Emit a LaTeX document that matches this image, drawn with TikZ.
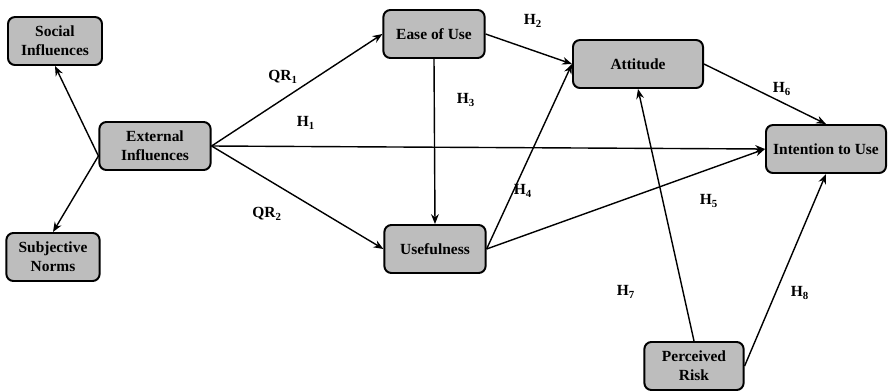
\documentclass[tikz,border=0pt]{standalone}
\usepackage{fontspec}
\setmainfont{Liberation Serif}
\usetikzlibrary{arrows.meta}

\newcommand{\hyp}[2]{\textbf{#1}\textsubscript{\textbf{#2}}}

\begin{document}
\begin{tikzpicture}[x=0.025cm,y=-0.025cm,
    box/.style={draw,line width=1.4pt,rounded corners=5pt,fill=black!26,
      minimum height=1.2cm,inner sep=2pt,align=center,
      font=\bfseries\fontsize{11}{13.5}\selectfont},
    link/.style={line width=1pt,-{Stealth[length=7pt,width=5.5pt]}},
    hlabel/.style={font=\fontsize{11}{12}\selectfont}]
  \useasboundingbox (0,0) rectangle (889,390);

  % constructs
  \node[box,minimum width=2.35cm] (soc) at (55,41) {Social\\Influences};
  \node[box,minimum width=2.78cm] (ext) at (155,146) {External\\Influences};
  \node[box,minimum width=2.33cm] (subj) at (53,257) {Subjective\\Norms};
  \node[box,minimum width=2.53cm] (ease) at (434,34) {Ease of Use};
  \node[box,minimum width=2.53cm] (use) at (435,249) {Usefulness};
  \node[box,minimum width=3.25cm] (att) at (638,64) {Attitude};
  \node[box,minimum width=3.0cm] (int) at (826,149) {Intention to Use};
  \node[box,minimum width=2.48cm] (risk) at (694,366) {Perceived\\Risk};

  % paths
  \draw[link] (ext.190) -- (soc.south);
  \draw[link] (ext.190) -- (subj.north);
  \draw[link] (ext.east) -- (ease.west);
  \draw[link] (ext.east) -- (int.west);
  \draw[link] (ext.east) -- (use.west);
  \draw[link] (ease.south) -- (use.north);
  \draw[link] (ease.east) -- (att.west);
  \draw[link] (use.east) -- (att.west);
  \draw[link] (use.east) -- (int.west);
  \draw[link] (att.east) -- (int.north);
  \draw[link] (risk.north) -- (att.south);
  \draw[link] (risk.east) -- (int.south);

  % hypotheses
  \node[hlabel] (qr1) at (283,77) {\hyp{QR}{1}};
  \node[hlabel] (h1) at (306,123) {\hyp{H}{1}};
  \node[hlabel] (qr2) at (267,214) {\hyp{QR}{2}};
  \node[hlabel] (h2) at (533,21) {\hyp{H}{2}};
  \node[hlabel] (h3) at (466,100) {\hyp{H}{3}};
  \node[hlabel] (h4) at (523,191) {\hyp{H}{4}};
  \node[hlabel] (h5) at (709,201) {\hyp{H}{5}};
  \node[hlabel] (h6) at (782,89) {\hyp{H}{6}};
  \node[hlabel] (h7) at (626,292) {\hyp{H}{7}};
  \node[hlabel] (h8) at (800,293) {\hyp{H}{8}};
\end{tikzpicture}
\end{document}
